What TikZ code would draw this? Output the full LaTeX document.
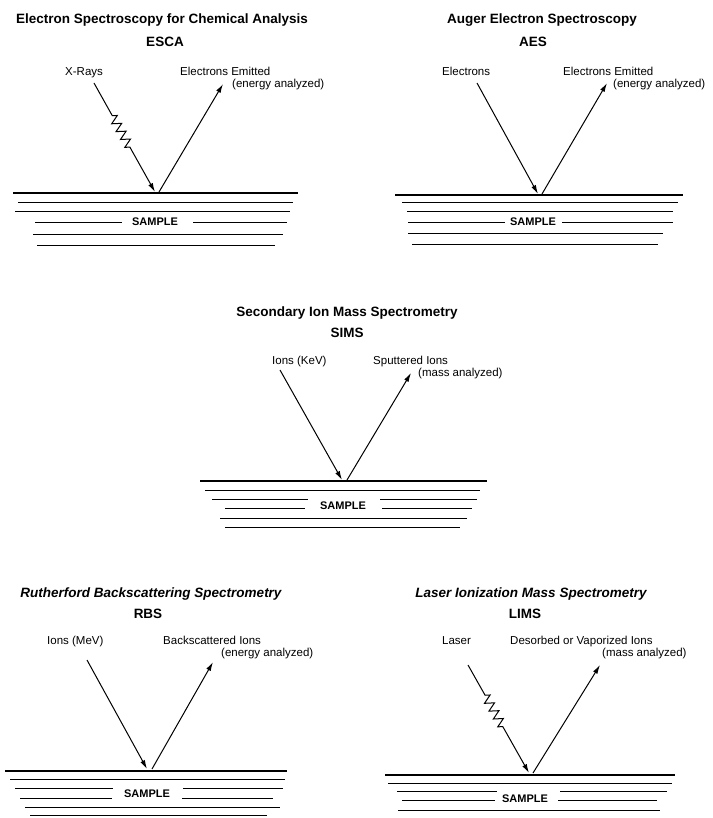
\documentclass[tikz,border=0pt]{standalone}
\usepackage{fontspec}
\setmainfont{Liberation Sans}
\usetikzlibrary{arrows.meta,decorations.pathmorphing,calc}
\begin{document}
\begin{tikzpicture}[x=1pt,y=-1pt,
  ttl/.style={font=\fontsize{13.5}{15}\selectfont\bfseries, inner sep=0pt, anchor=base},
  ttlit/.style={ttl, font=\fontsize{13.5}{15}\selectfont\bfseries\itshape},
  lbl/.style={font=\fontsize{11.5}{13}\selectfont, inner sep=0pt, anchor=base west},
  smp/.style={font=\fontsize{11}{13}\selectfont\bfseries, inner sep=0pt},
  beam/.style={line width=1pt, -{Latex[length=9pt,width=5pt]}},
  surf/.style={line width=1.4pt},
  layer/.style={line width=0.8pt},
  zig/.style={decoration={zigzag, segment length=9pt, amplitude=4.5pt}}]
\useasboundingbox (0,0) rectangle (712,818);

% ---------------- ESCA ----------------
\node[ttl] (esca-t) at (162,24) {Electron Spectroscopy for Chemical Analysis};
\node[ttl] (esca-a) at (165,47) {ESCA};
\node[lbl] (esca-l1) at (65,76) {X-Rays};
\node[lbl] (esca-l2) at (180,76) {Electrons Emitted};
\node[lbl] (esca-l3) at (232,88) {(energy analyzed)};
\coordinate (esca-s) at (94,83);
\coordinate (esca-h) at (155,192);
\coordinate (esca-o) at (159,192);
\coordinate (esca-e) at (223,84);
\draw[beam] (esca-s) -- ($(esca-s)!0.3!(esca-h)$) decorate[zig]{-- ($(esca-s)!0.6!(esca-h)$)} -- (esca-h);
\draw[beam] (esca-o) -- (esca-e);
\draw[surf] (13,193) -- (298,193);
\foreach \y/\a/\b in {202/18/293, 211/15/290, 234/33/283, 245/37/275}
  \draw[layer] (\a,\y) -- (\b,\y);
\node[smp] (esca-smp) at (155,222) {SAMPLE};
\draw[layer] (35,222) -- (122,222) (193,222) -- (287,222);

% ---------------- AES ----------------
\node[ttl] (aes-t) at (542,24) {Auger Electron Spectroscopy};
\node[ttl] (aes-a) at (533,47) {AES};
\node[lbl] (aes-l1) at (442,76) {Electrons};
\node[lbl] (aes-l2) at (563,76) {Electrons Emitted};
\node[lbl] (aes-l3) at (613,88) {(energy analyzed)};
\coordinate (aes-s) at (477,83);
\coordinate (aes-h) at (538,194);
\coordinate (aes-o) at (542,194);
\coordinate (aes-e) at (607,83);
\draw[beam] (aes-s) -- (aes-h);
\draw[beam] (aes-o) -- (aes-e);
\draw[surf] (395,195) -- (683,195);
\foreach \y/\a/\b in {202/402/678, 211/407/673, 233/408/663, 244/412/658}
  \draw[layer] (\a,\y) -- (\b,\y);
\node[smp] (aes-smp) at (533,222) {SAMPLE};
\draw[layer] (408,222) -- (505,222) (562,222) -- (673,222);

% ---------------- SIMS ----------------
\node[ttl] (sims-t) at (347,316) {Secondary Ion Mass Spectrometry};
\node[ttl] (sims-a) at (347,337) {SIMS};
\node[lbl] (sims-l1) at (272,364) {Ions (KeV)};
\node[lbl] (sims-l2) at (373,364) {Sputtered Ions};
\node[lbl] (sims-l3) at (418,376) {(mass analyzed)};
\coordinate (sims-s) at (280,370);
\coordinate (sims-h) at (342,480);
\coordinate (sims-o) at (347,480);
\coordinate (sims-e) at (411,373);
\draw[beam] (sims-s) -- (sims-h);
\draw[beam] (sims-o) -- (sims-e);
\draw[surf] (200,481) -- (487,481);
\foreach \y/\a/\b in {490/205/480, 518/220/467, 527/225/460}
  \draw[layer] (\a,\y) -- (\b,\y);
\node[smp] (sims-smp) at (343,506) {SAMPLE};
\draw[layer] (212,499) -- (308,499) (380,499) -- (477,499);
\draw[layer] (225,508) -- (305,508) (382,508) -- (472,508);

% ---------------- RBS ----------------
\node[ttlit] (rbs-t) at (151,597) {Rutherford Backscattering Spectrometry};
\node[ttl] (rbs-a) at (148,618) {RBS};
\node[lbl] (rbs-l1) at (47,644) {Ions (MeV)};
\node[lbl] (rbs-l2) at (163,644) {Backscattered Ions};
\node[lbl] (rbs-l3) at (221,656) {(energy analyzed)};
\coordinate (rbs-s) at (87,660);
\coordinate (rbs-h) at (147,769);
\coordinate (rbs-o) at (152,769);
\coordinate (rbs-e) at (213,662);
\draw[beam] (rbs-s) -- (rbs-h);
\draw[beam] (rbs-o) -- (rbs-e);
\draw[surf] (5,771) -- (287,771);
\foreach \y/\a/\b in {779/10/285, 807/25/280, 815/30/267}
  \draw[layer] (\a,\y) -- (\b,\y);
\node[smp] (rbs-smp) at (147,794) {SAMPLE};
\draw[layer] (15,788) -- (113,788) (183,788) -- (283,788);
\draw[layer] (20,798) -- (112,798) (182,798) -- (273,798);

% ---------------- LIMS ----------------
\node[ttlit] (lims-t) at (531,597) {Laser Ionization Mass Spectrometry};
\node[ttl] (lims-a) at (525,618) {LIMS};
\node[lbl] (lims-l1) at (442,644) {Laser};
\node[lbl] (lims-l2) at (510,644) {Desorbed or Vaporized Ions};
\node[lbl] (lims-l3) at (602,656) {(mass analyzed)};
\coordinate (lims-s) at (468,665);
\coordinate (lims-h) at (529,773);
\coordinate (lims-o) at (533,773);
\coordinate (lims-e) at (600,665);
\draw[beam] (lims-s) -- ($(lims-s)!0.28!(lims-h)$) decorate[zig]{-- ($(lims-s)!0.58!(lims-h)$)} -- (lims-h);
\draw[beam] (lims-o) -- (lims-e);
\draw[surf] (385,775) -- (675,775);
\foreach \y/\a/\b in {783/388/672, 810/398/660}
  \draw[layer] (\a,\y) -- (\b,\y);
\node[smp] (lims-smp) at (525,799) {SAMPLE};
\draw[layer] (397,791) -- (497,791) (560,791) -- (667,791);
\draw[layer] (402,800) -- (495,800) (558,800) -- (657,800);
\end{tikzpicture}
\end{document}
